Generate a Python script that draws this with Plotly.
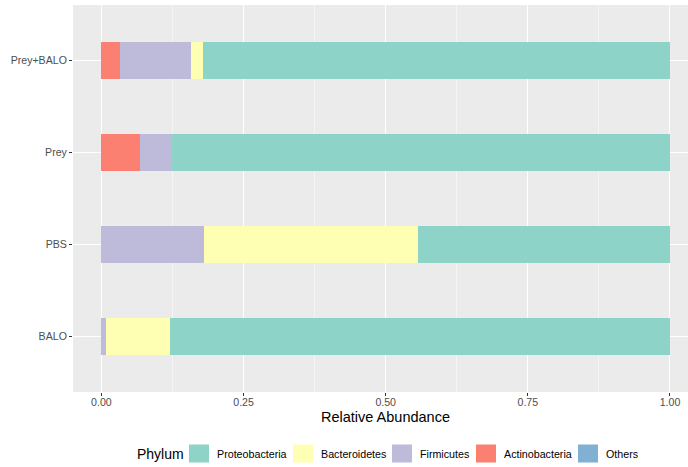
import plotly.graph_objects as go

# ---- data ----
samples = ["BALO", "PBS", "Prey", "Prey+BALO"]
phyla_legend = ["Proteobacteria", "Bacteroidetes", "Firmicutes", "Actinobacteria", "Others"]
proteobacteria = [0.879, 0.443, 0.876, 0.822]
bacteroidetes = [0.113, 0.376, 0.000, 0.020]
firmicutes = [0.008, 0.181, 0.056, 0.125]
actinobacteria = [0.000, 0.000, 0.068, 0.033]
others = [0.000, 0.000, 0.000, 0.000]

colors = {
    "Proteobacteria": "#8DD3C7",
    "Bacteroidetes": "#FFFFB3",
    "Firmicutes": "#BEBADA",
    "Actinobacteria": "#FB8072",
    "Others": "#80B1D3",
}
values = {
    "Proteobacteria": proteobacteria,
    "Bacteroidetes": bacteroidetes,
    "Firmicutes": firmicutes,
    "Actinobacteria": actinobacteria,
    "Others": others,
}
x_ticks = [0, 0.25, 0.5, 0.75, 1.0]
x_tick_labels = ["0.00", "0.25", "0.50", "0.75", "1.00"]
x_title = "Relative Abundance"
legend_title = "Phylum"

W, H = 688, 467
ML, MR, MT, MB = 73, 0, 5, 75
PW, PH = W - ML - MR, H - MT - MB

FONT = "Liberation Sans, Arial, sans-serif"

fig = go.Figure()
# stack order left->right: Others, Actinobacteria, Firmicutes, Bacteroidetes, Proteobacteria
for name in reversed(phyla_legend):
    fig.add_trace(go.Bar(
        y=samples, x=values[name], name=name, orientation="h",
        width=0.4, marker=dict(color=colors[name], line=dict(width=0)),
        showlegend=False,
    ))

fig.update_layout(
    width=W, height=H,
    margin=dict(l=ML, r=MR, t=MT, b=MB, autoexpand=False),
    barmode="stack",
    paper_bgcolor="white",
    plot_bgcolor="#EBEBEB",
    font=dict(family=FONT, color="#000000"),
    xaxis=dict(
        range=[-0.05, 1.0317],
        tickvals=x_ticks, ticktext=x_tick_labels,
        ticks="outside", ticklen=3, tickwidth=1, tickcolor="#333333",
        tickfont=dict(size=10.6, color="#4D4D4D"),
        ticklabelstandoff=-3,
        showgrid=True, gridcolor="#FFFFFF", gridwidth=1.1,
        minor=dict(dtick=0.25, tick0=0.125, showgrid=True, gridcolor="#F4F4F4", gridwidth=0.6, ticks=""),
        zeroline=False, showline=False, automargin=False,
    ),
    yaxis=dict(
        categoryorder="array", categoryarray=samples,
        range=[-0.6, 3.6],
        ticks="outside", ticklen=3, tickwidth=1, tickcolor="#333333",
        tickfont=dict(size=10.6, color="#4D4D4D"),
        showgrid=True, gridcolor="#FFFFFF", gridwidth=1.1,
        zeroline=False, showline=False, automargin=False,
    ),
)

# ---- pixel helpers for text/legend placement ----
def px_x(px):
    return (px - ML) / PW

def px_y(py):
    return (H - MB - py) / PH

annotations = [dict(
    x=0.5 * (px_x(ML) + px_x(698)), y=px_y(416.5), xref="paper", yref="paper",
    text=x_title, showarrow=False, xanchor="center", yanchor="middle",
    font=dict(size=14.5, color="#000000", family=FONT), borderpad=0,
)]

# ---- legend (drawn manually to match ggplot key layout) ----
key_left = [189, 293, 392, 476, 578]
key_w, key_h = 20, 18
key_cy = 453.5
shapes = []
annotations.append(dict(
    x=px_x(135), y=px_y(key_cy), xref="paper", yref="paper",
    text=legend_title, showarrow=False, xanchor="left", yanchor="middle",
    font=dict(size=14, color="#000000", family=FONT),
))
for name, kx in zip(phyla_legend, key_left):
    shapes.append(dict(
        type="rect", xref="paper", yref="paper",
        x0=px_x(kx), x1=px_x(kx + key_w),
        y0=px_y(key_cy + key_h / 2), y1=px_y(key_cy - key_h / 2),
        fillcolor=colors[name], line=dict(width=0), layer="above",
    ))
    annotations.append(dict(
        x=px_x(kx + key_w + 6), y=px_y(key_cy), xref="paper", yref="paper",
        text=name, showarrow=False, xanchor="left", yanchor="middle",
        font=dict(size=10.7, color="#000000", family=FONT),
    ))
fig.update_layout(shapes=shapes, annotations=annotations)

fig.write_html(
    "out.html",
    config={"displayModeBar": False},
    post_script="document.body.style.margin='0';document.body.style.padding='0';",
)
